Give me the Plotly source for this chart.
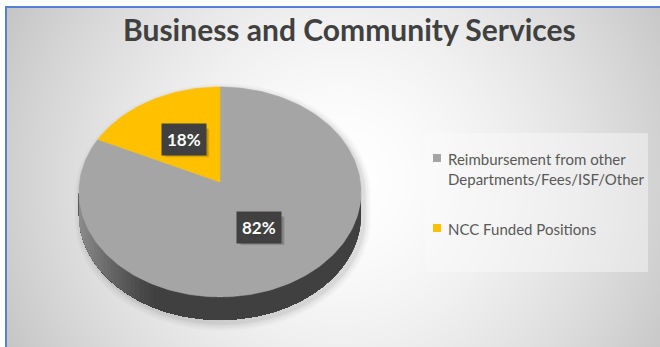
import base64
import struct
import zlib

import numpy as np
import plotly.graph_objects as go

W, H = 660, 347

# ---- data -------------------------------------------------------------
title = "Business and Community Services"
labels = ["Reimbursement from other<br>Departments/Fees/ISF/Other", "NCC Funded Positions"]
values = [82, 18]
colors = ["#a5a5a5", "#ffc000"]

# ---- 3D pie geometry (perspective tilt + extrusion depth, in axis units) ----
K = 0.095        # perspective strength
DEPTH = 0.22     # thickness of the pie
N = 240
XS, YS = 140.4, 104.0   # pixels per axis unit


def project(u, w):
    d = 1 + K * w
    return u / d, w / d


total = float(sum(values))
bounds = []
a = np.pi / 2
for v in values:
    sweep = 2 * np.pi * v / total
    bounds.append((a, a - sweep))
    a -= sweep


def slice_of(theta):
    # which slice owns angle theta (angles run clockwise from 12 o'clock)
    for i, (a0, a1) in enumerate(bounds):
        t = theta
        while t > a0:
            t -= 2 * np.pi
        while t < a1:
            t += 2 * np.pi
        if a1 <= t <= a0:
            return i
    return 0


def shade(hex_color, f):
    r, g, b = (int(hex_color[i:i + 2], 16) for i in (1, 3, 5))
    return "rgb({},{},{})".format(int(r * f), int(g * f), int(b * f))


def side_factor(xm):
    return 0.39 + 0.46 * np.clip((-0.42 - xm) / 0.58, 0, 1) ** 1.3


fig = go.Figure()

# soft shadow under the pie
s_back = np.linspace(-np.arcsin(K), np.pi + np.arcsin(K), N)
s_front = np.linspace(np.pi + np.arcsin(K), 2 * np.pi - np.arcsin(K), N)
bx, by = project(np.cos(s_back), np.sin(s_back))
fx, fy = project(np.cos(s_front), np.sin(s_front))
sil_x = np.concatenate([bx, fx])
sil_y = np.concatenate([by, fy - DEPTH])
for grow, alpha in [(0.05, 0.025), (0.035, 0.03), (0.02, 0.035), (0.01, 0.04)]:
    fig.add_trace(go.Scatter(
        x=sil_x * (1 + grow) + 0.02, y=(sil_y + DEPTH / 2) * (1 + grow * 1.2) - DEPTH / 2 - 0.03,
        fill="toself", mode="none", fillcolor="rgba(0,0,0,{})".format(alpha),
        hoverinfo="skip", showlegend=False))

# extruded side (front half): stacked bands on one shared angle grid, each
# reaching back to the left end, so the shading steps lighter to the left
t_left = np.pi + np.arcsin(K)
t_right = 2 * np.pi - np.arcsin(K)
grid = np.linspace(t_left, t_right, 321)
gx, gy = project(np.cos(grid), np.sin(grid))
for j in range(len(grid) - 1, 0, -4):
    x, y = gx[:j + 1], gy[:j + 1]
    c = shade(colors[slice_of(grid[j] - 1e-3)], side_factor(gx[j]))
    fig.add_trace(go.Scatter(
        x=np.concatenate([x, x[::-1]]), y=np.concatenate([y, y[::-1] - DEPTH]),
        fill="toself", mode="none", fillcolor=c,
        hoverinfo="skip", showlegend=False))

# top surface: one wedge per value
for (a0, a1), col, name, v in zip(bounds, colors, labels, values):
    tt = np.linspace(a0, a1, max(8, int(N * (a0 - a1) / (2 * np.pi))))
    x, y = project(np.cos(tt), np.sin(tt))
    fig.add_trace(go.Scatter(
        x=np.concatenate([[0], x, [0]]), y=np.concatenate([[0], y, [0]]),
        fill="toself", mode="lines", line=dict(color=col, width=0.6), fillcolor=col,
        name=name.replace("<br>", " "), hoverinfo="name", showlegend=False))

# percentage labels in dark boxes, with a soft drop shadow behind each box
ann = []
shapes = []
BOX_W, BOX_H = 44, 28
for (a0, a1), v in zip(bounds, values):
    mid = (a0 + a1) / 2
    lx, ly = project(0.5 * np.cos(mid), 0.5 * np.sin(mid))
    txt = "{:.0f}%".format(100 * v / total)
    for off, alpha in [(3.5, 0.10), (2.5, 0.14)]:
        shapes.append(dict(type="rect", xref="x", yref="y",
                           x0=lx + (off - BOX_W / 2) / XS, x1=lx + (off + BOX_W / 2) / XS,
                           y0=ly - (off + BOX_H / 2) / YS, y1=ly - (off - BOX_H / 2) / YS,
                           fillcolor="rgba(0,0,0,{})".format(alpha), line=dict(width=0)))
    ann.append(dict(x=lx, y=ly, xref="x", yref="y", text=txt, showarrow=False,
                    font=dict(family="Lato", size=17, color="#ffffff", weight="bold"),
                    bgcolor="#404040", borderpad=5))


def px(x):
    return x / W


def py(y):
    return 1 - y / H


# title
ann.append(dict(x=px(349), y=py(29), xref="paper", yref="paper", text=title,
                showarrow=False, xanchor="center", yanchor="middle",
                font=dict(family="Lato", size=30, color="#404040", weight="bold")))

# legend
shapes.append(dict(type="rect", xref="paper", yref="paper", x0=px(425), x1=px(648),
                   y0=py(133), y1=py(272), fillcolor="rgba(250,250,250,0.45)",
                   line=dict(width=0), layer="below"))
leg_y = [158, 228]
for name, col, yy in zip(labels, colors, leg_y):
    shapes.append(dict(type="rect", xref="paper", yref="paper", x0=px(433), x1=px(441),
                       y0=py(yy - 4), y1=py(yy + 4), fillcolor=col, line=dict(width=0)))
    ann.append(dict(x=px(446), y=py(yy - 10), xref="paper", yref="paper", text=name,
                    showarrow=False, xanchor="left", yanchor="top", align="left",
                    font=dict(family="Lato", size=15, color="#595959")))

# chart frame
shapes.append(dict(type="line", xref="paper", yref="paper", x0=px(6), x1=px(6), y0=0, y1=py(6),
                   line=dict(color="#5680d4", width=2)))
shapes.append(dict(type="line", xref="paper", yref="paper", x0=px(5), x1=1, y0=py(7), y1=py(7),
                   line=dict(color="#5680d4", width=2)))


# radial background gradient
def gradient_png(w, h, cx, cy, r, lo, hi, gamma):
    yy, xx = np.mgrid[0:h, 0:w]
    t = np.clip(np.hypot(xx + 0.5 - cx, yy + 0.5 - cy) / r, 0, 1)
    g = np.round(hi - (hi - lo) * t ** gamma).astype(np.uint8)
    raw = b"".join(b"\x00" + g[i].tobytes() for i in range(h))

    def chunk(tag, data):
        return (struct.pack(">I", len(data)) + tag + data
                + struct.pack(">I", zlib.crc32(tag + data) & 0xFFFFFFFF))

    png = (b"\x89PNG\r\n\x1a\n"
           + chunk(b"IHDR", struct.pack(">IIBBBBB", w, h, 8, 0, 0, 0, 0))
           + chunk(b"IDAT", zlib.compress(raw, 9))
           + chunk(b"IEND", b""))
    return "data:image/png;base64," + base64.b64encode(png).decode()


bg = gradient_png(655, 341, 335, 174, 378, 196, 255, 1.6)

fig.update_layout(
    width=W, height=H, margin=dict(l=0, r=0, t=0, b=0),
    paper_bgcolor="#ffffff", plot_bgcolor="rgba(0,0,0,0)",
    xaxis=dict(visible=False, range=[-220 / XS, 440 / XS], fixedrange=True),
    yaxis=dict(visible=False, range=[-(H - 182) / YS, 182 / YS], fixedrange=True),
    annotations=ann, shapes=shapes,
    images=[dict(source=bg, xref="paper", yref="paper", x=px(5), y=py(6),
                 sizex=655 / W, sizey=341 / H, xanchor="left", yanchor="top",
                 sizing="stretch", layer="below")],
    showlegend=False,
)

fig.write_html("out.html")
